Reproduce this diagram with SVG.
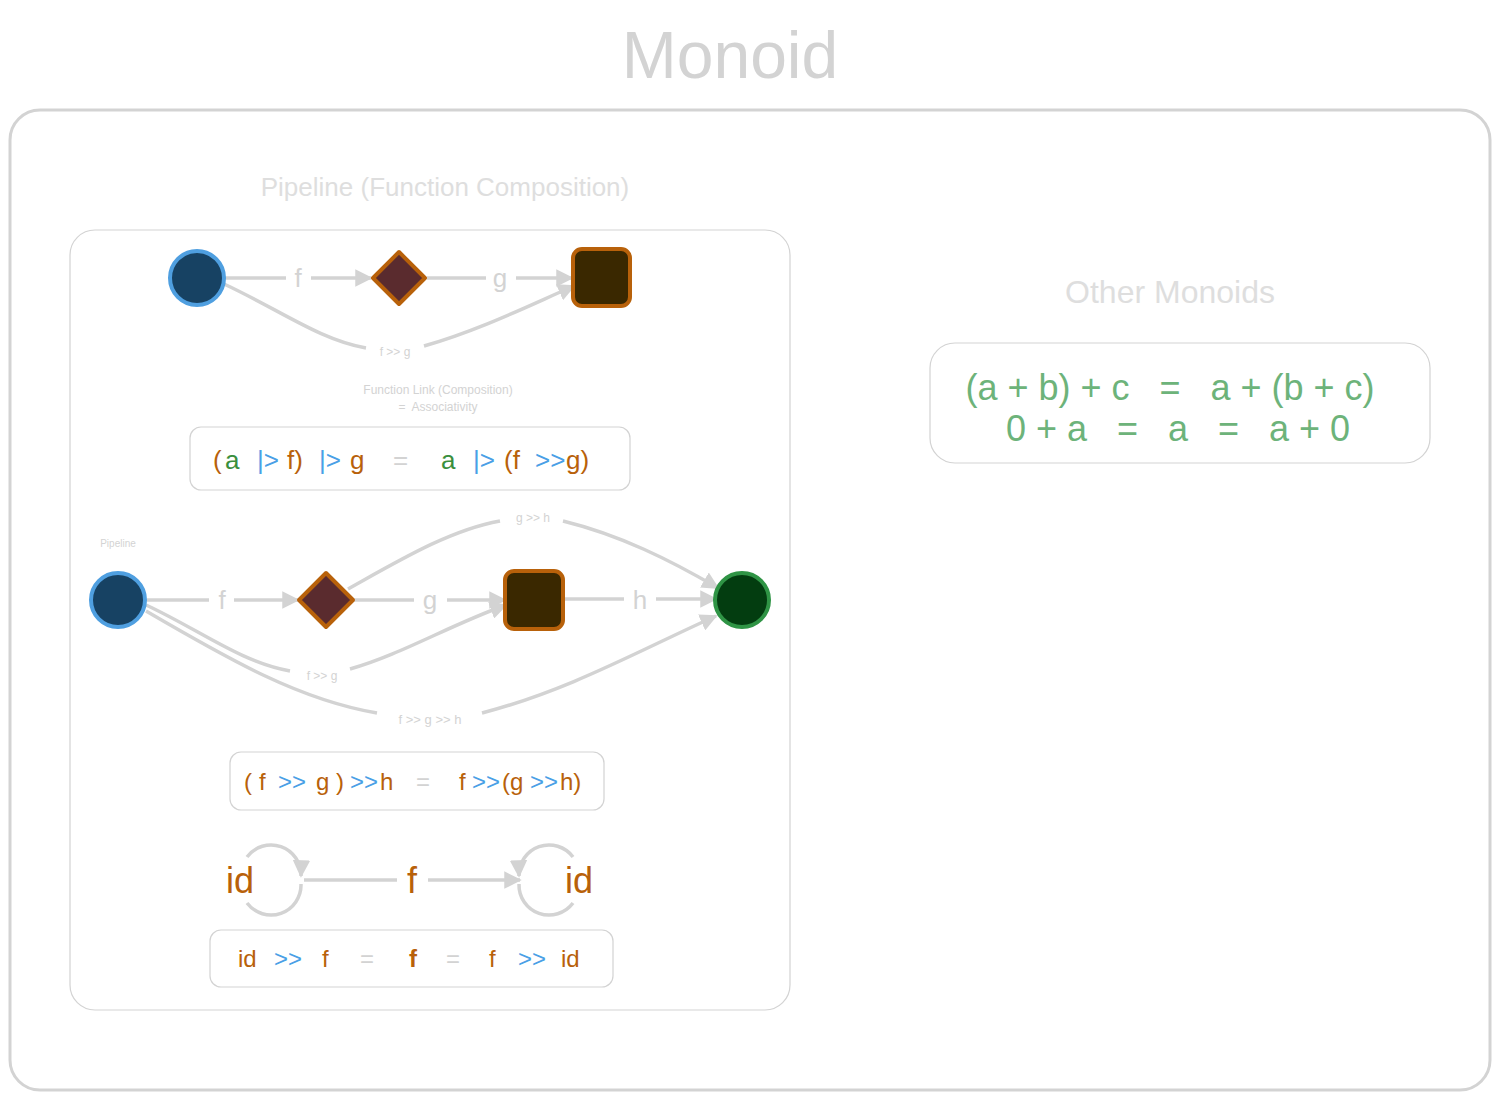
<svg xmlns="http://www.w3.org/2000/svg" width="1500" height="1100" viewBox="0 0 1500 1100">
<defs>
<style>
.frame{fill:#fff;stroke:#d3d3d3;stroke-width:3}
.box{fill:#fff;stroke:#d3d3d3;stroke-width:1.2}
.edge{fill:none;stroke:#d3d3d3;stroke-width:3.5}
.hand{font-family:"Liberation Sans",sans-serif;fill:#dedede}
.lbl{font-family:"Liberation Sans",sans-serif;fill:#d3d3d3;text-anchor:middle}
.f{font-family:"Liberation Sans",sans-serif;font-size:26px}
.o{fill:#b8610a}.b{fill:#4a9fe6}.g{fill:#3a8f3d}.q{fill:#d3d3d3}
.m{font-family:"Liberation Sans",sans-serif;fill:#6db37a;font-size:36px;text-anchor:middle}
</style>
<marker id="ah" viewBox="0 0 10 10" refX="9" refY="5" markerWidth="5" markerHeight="5" orient="auto" markerUnits="strokeWidth">
<path d="M0,0 L10,5 L0,10 z" fill="#d3d3d3"/>
</marker>
</defs>
<rect width="1500" height="1100" fill="#fff"/>
<text x="730" y="78" class="hand" font-size="66" text-anchor="middle" style="fill:#d3d3d3">Monoid</text>
<rect class="frame" x="10" y="110" width="1480" height="980" rx="30"/>

<g id="pipeline-container">
<rect class="box" x="70" y="230" width="720" height="780" rx="25"/>
<text x="445" y="196" class="hand" font-size="26" text-anchor="middle">Pipeline (Function Composition)</text>
</g>

<g id="connectors">
<path class="edge" d="M225,278 H286"/>
<text class="lbl" x="298" y="287" font-size="26">f</text>
<path class="edge" d="M311,278 H371" marker-end="url(#ah)"/>
<path class="edge" d="M427,278 H486"/>
<text class="lbl" x="500" y="287" font-size="26">g</text>
<path class="edge" d="M516,278 H572" marker-end="url(#ah)"/>
<path class="edge" d="M224,284 C280,310 320,340 366,348"/>
<text class="lbl" x="395" y="356" font-size="12">f &gt;&gt; g</text>
<path class="edge" d="M424,346 C480,330 530,305 574,286" marker-end="url(#ah)"/>
<path class="edge" d="M147,600 H209"/>
<text class="lbl" x="222" y="609" font-size="26">f</text>
<path class="edge" d="M234,600 H298" marker-end="url(#ah)"/>
<path class="edge" d="M354,600 H414"/>
<text class="lbl" x="430" y="609" font-size="26">g</text>
<path class="edge" d="M447,600 H505" marker-end="url(#ah)"/>
<path class="edge" d="M565,599 H624"/>
<text class="lbl" x="640" y="609" font-size="26">h</text>
<path class="edge" d="M656,599 H716" marker-end="url(#ah)"/>
<path class="edge" d="M348,589 C400,560 450,530 500,521"/>
<text class="lbl" x="533" y="522" font-size="12">g &gt;&gt; h</text>
<path class="edge" d="M563,521 C620,535 670,560 718,588" marker-end="url(#ah)"/>
<path class="edge" d="M146,605 C200,630 240,662 290,671"/>
<text class="lbl" x="322" y="680" font-size="12">f &gt;&gt; g</text>
<path class="edge" d="M350,669 C400,655 450,625 506,605" marker-end="url(#ah)"/>
<path class="edge" d="M146,611 C230,660 300,700 377,713"/>
<text class="lbl" x="430" y="724" font-size="13">f &gt;&gt; g &gt;&gt; h</text>
<path class="edge" d="M482,713 C570,690 640,650 716,616" marker-end="url(#ah)"/>
<path class="edge" d="M247,857 A30,30 0 0 1 301,876" marker-end="url(#ah)"/>
<path class="edge" d="M301,884 A30,30 0 0 1 247,903"/>
<path class="edge" d="M304,880 H397"/>
<path class="edge" d="M428,880 H520" marker-end="url(#ah)"/>
<path class="edge" d="M573,857 A30,30 0 0 0 519,876" marker-end="url(#ah)"/>
<path class="edge" d="M519,884 A30,30 0 0 0 573,903"/>
</g>

<g id="n-a1"><circle cx="197" cy="278" r="27" fill="#174263" stroke="#4f9fe0" stroke-width="4"/></g>
<g id="n-b1"><path d="M399,252 L425,278 L399,304 L373,278 Z" fill="#5a2b2e" stroke="#b8610a" stroke-width="4" stroke-linejoin="round"/></g>
<g id="n-c1"><rect x="573" y="249" width="57" height="57" rx="9" fill="#3a2800" stroke="#b8610a" stroke-width="4"/></g>

<g id="caption1">
<text class="hand" x="438" y="394" font-size="12" text-anchor="middle" style="fill:#d3d3d3">Function Link (Composition)</text>
<text class="hand" x="438" y="411" font-size="12" text-anchor="middle" style="fill:#d3d3d3" xml:space="preserve">=  Associativity</text>
</g>

<g id="formula1">
<rect class="box" x="190" y="427" width="440" height="63" rx="11"/>
<text class="f" y="469"><tspan class="o" x="213">(</tspan><tspan class="g" x="225">a</tspan><tspan class="b" x="257">|&gt;</tspan><tspan class="o" x="287">f)</tspan><tspan class="b" x="319">|&gt;</tspan><tspan class="o" x="350">g</tspan><tspan class="q" x="393">=</tspan><tspan class="g" x="441">a</tspan><tspan class="b" x="473">|&gt;</tspan><tspan class="o" x="504">(f</tspan><tspan class="b" x="535">&gt;&gt;</tspan><tspan class="o" x="566">g)</tspan></text>
</g>

<text class="hand" x="118" y="547" font-size="10" text-anchor="middle" style="fill:#d3d3d3">Pipeline</text>
<g id="n-a2"><circle cx="118" cy="600" r="27" fill="#174263" stroke="#4f9fe0" stroke-width="4"/></g>
<g id="n-b2"><path d="M326,573 L353,600 L326,627 L299,600 Z" fill="#5a2b2e" stroke="#b8610a" stroke-width="4" stroke-linejoin="round"/></g>
<g id="n-c2"><rect x="505" y="571" width="58" height="58" rx="9" fill="#3a2800" stroke="#b8610a" stroke-width="4"/></g>
<g id="n-d2"><circle cx="742" cy="600" r="27" fill="#033d10" stroke="#2f9445" stroke-width="4"/></g>

<g id="formula2">
<rect class="box" x="230" y="752" width="374" height="58" rx="11"/>
<text class="f" y="790" style="font-size:24px"><tspan class="o" x="244">(</tspan><tspan class="o" x="259">f</tspan><tspan class="b" x="278">&gt;&gt;</tspan><tspan class="o" x="316">g</tspan><tspan class="o" x="336">)</tspan><tspan class="b" x="350">&gt;&gt;</tspan><tspan class="o" x="380">h</tspan><tspan class="q" x="416">=</tspan><tspan class="o" x="459">f</tspan><tspan class="b" x="472">&gt;&gt;</tspan><tspan class="o" x="502">(g</tspan><tspan class="b" x="530">&gt;&gt;</tspan><tspan class="o" x="560">h)</tspan></text>
</g>

<g id="n-id1"><text class="f o" x="240" y="893" style="font-size:36px" text-anchor="middle">id</text></g>
<g id="n-f"><text class="f o" x="412" y="893" style="font-size:36px" text-anchor="middle">f</text></g>
<g id="n-id2"><text class="f o" x="579" y="893" style="font-size:36px" text-anchor="middle">id</text></g>

<g id="formula3">
<rect class="box" x="210" y="930" width="403" height="57" rx="11"/>
<text class="f" y="967" style="font-size:24px"><tspan class="o" x="238">id</tspan><tspan class="b" x="274">&gt;&gt;</tspan><tspan class="o" x="322">f</tspan><tspan class="q" x="360">=</tspan><tspan class="o" x="409" font-weight="bold">f</tspan><tspan class="q" x="446">=</tspan><tspan class="o" x="489">f</tspan><tspan class="b" x="518">&gt;&gt;</tspan><tspan class="o" x="561">id</tspan></text>
</g>

<g id="other-monoids">
<text class="hand" x="1170" y="303" font-size="32" text-anchor="middle">Other Monoids</text>
<rect class="box" x="930" y="343" width="500" height="120" rx="25"/>
<text class="m" x="1170" y="400" xml:space="preserve">(a + b) + c   =   a + (b + c)</text>
<text class="m" x="1178" y="441" xml:space="preserve">0 + a   =   a   =   a + 0</text>
</g>
</svg>
